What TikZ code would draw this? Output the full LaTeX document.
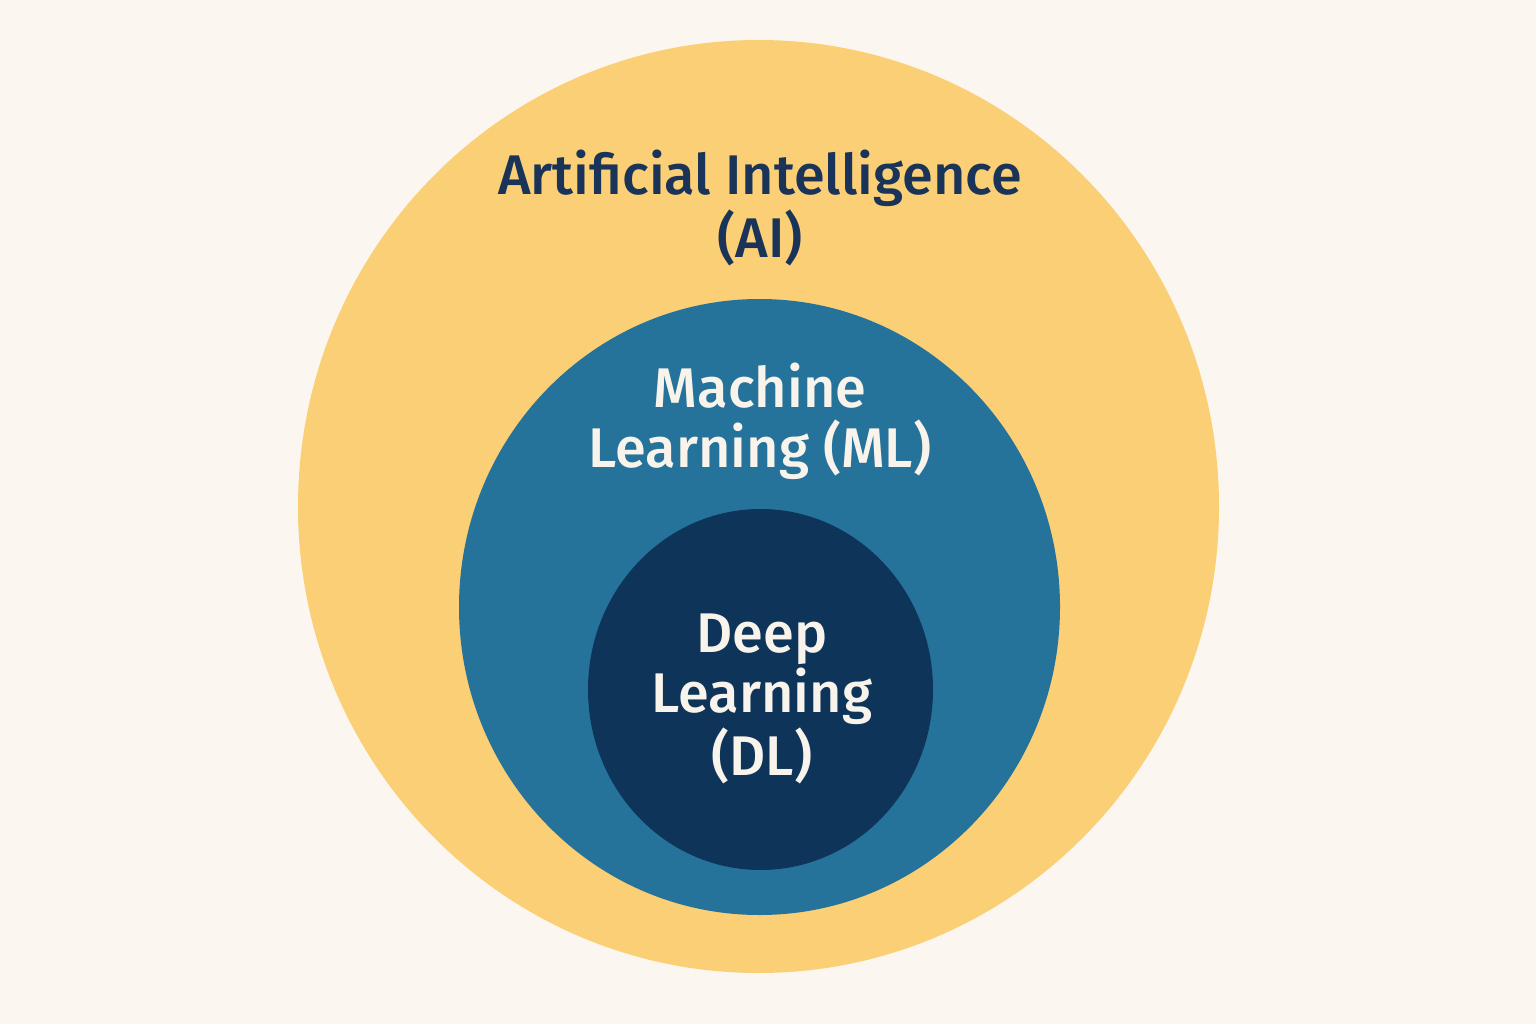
\documentclass[tikz,border=0pt]{standalone}
\usepackage{fontspec}
\setmainfont{Fira Sans Medium}
\usetikzlibrary{shapes.geometric}
\definecolor{paper}{HTML}{FBF6EF}
\definecolor{aiyellow}{HTML}{FBCF75}
\definecolor{mlblue}{HTML}{25729A}
\definecolor{dlnavy}{HTML}{0F3459}
\definecolor{inkblue}{HTML}{1A3358}
\definecolor{chalk}{HTML}{F8F4EC}
\begin{document}
\begin{tikzpicture}[ring/.style = {ellipse, inner sep=0pt},
    field/.style = {align=center, font=\fontsize{15.9}{17}\selectfont}]
    \fill[paper] (0,0) rectangle (15.36,10.24);
    \useasboundingbox (0,0) rectangle (15.36,10.24);
    \node [ring, fill=aiyellow, minimum width=9.21cm, minimum height=9.33cm] (AI) at (7.585,5.175) {};
    \node [ring, fill=mlblue, minimum width=6.01cm, minimum height=6.16cm] (ML) at (7.595,4.17) {};
    \node [ring, fill=dlnavy, minimum width=3.45cm, minimum height=3.61cm] (DL) at (7.605,3.345) {};
    \node [field, text=inkblue] (AItext) at (7.60,8.16) {Artificial Intelligence\\(AI)};
    \node [field, text=chalk] (MLtext) at (7.60,6.03) {Machine\\Learning (ML)};
    \node [field, text=chalk] (DLtext) at (7.62,3.25) {Deep\\Learning\\(DL)};
\end{tikzpicture}
\end{document}
